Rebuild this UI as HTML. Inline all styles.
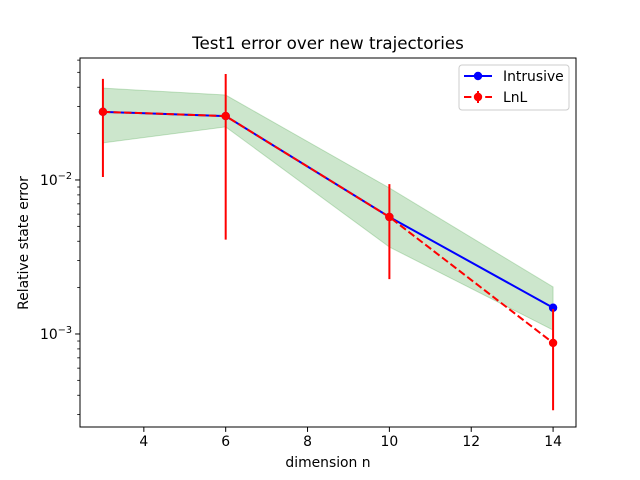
<!DOCTYPE html>
<html><head><meta charset="utf-8">
<style>body{margin:0;background:#fff}svg{display:block}text{font-family:"DejaVu Sans","Liberation Sans",sans-serif}</style>
</head><body>
<svg id="chart" width="640" height="480"></svg>
<script>
const xs = [3, 6, 10, 14];
const intrusive = [0.0277, 0.026, 0.00575, 0.00148];
const lnl = [0.0277, 0.026, 0.00575, 0.000875];
const errUpper = [0.0453, 0.0488, 0.0094, 0.00145];
const errLower = [0.01045, 0.0041, 0.00227, 0.00032];
const bandUpper = [0.0395, 0.0356, 0.00887, 0.00202];
const bandLower = [0.0174, 0.0221, 0.00367, 0.00106];
const xTicks = [4, 6, 8, 10, 12, 14];
const L=80,R=576,T=58,B=427;
const xmin=2.44,xmax=14.56,lmin=-3.604,lmax=-1.208;
const sx=v=>L+(v-xmin)/(xmax-xmin)*(R-L);
const sy=v=>B-(Math.log10(v)-lmin)/(lmax-lmin)*(B-T);
const svg=document.getElementById('chart');
const NS='http://www.w3.org/2000/svg';
function mk(tag,attrs,parent){const e=document.createElementNS(NS,tag);for(const k in attrs)e.setAttribute(k,attrs[k]);(parent||svg).appendChild(e);return e;}
let pts=xs.map((x,i)=>sx(x)+','+sy(bandUpper[i])).concat(xs.map((x,i)=>sx(x)+','+sy(bandLower[i])).reverse()).join(' ');
const band=mk('polygon',{points:pts,fill:'green','fill-opacity':0.2,stroke:'green','stroke-opacity':0.2});


const il=mk('polyline',{points:xs.map((x,i)=>sx(x)+','+sy(intrusive[i])).join(' '),fill:'none',stroke:'blue','stroke-width':2});


xs.forEach((x,i)=>{const c=mk('circle',{cx:sx(x),cy:sy(intrusive[i]),r:4.2,fill:'blue'});

});
xs.forEach((x,i)=>{const e=mk('line',{x1:sx(x),x2:sx(x),y1:sy(errUpper[i]),y2:sy(errLower[i]),stroke:'red','stroke-width':2});

});
const ll=mk('polyline',{points:xs.map((x,i)=>sx(x)+','+sy(lnl[i])).join(' '),fill:'none',stroke:'red','stroke-width':2,'stroke-dasharray':'7.4,3.2'});


xs.forEach((x,i)=>{const c=mk('circle',{cx:sx(x),cy:sy(lnl[i]),r:4.2,fill:'red'});

});
const fr=mk('rect',{x:L,y:T,width:R-L,height:B-T,fill:'none',stroke:'#000','stroke-width':1});


xTicks.forEach(t=>{const x=sx(t);mk('line',{x1:x,x2:x,y1:B,y2:B+4.9,stroke:'#000','stroke-width':1});
const tx=mk('text',{x:x,y:B+19,'text-anchor':'middle','font-size':13.9});tx.textContent=t;

});
for(let d=-4;d<=-1;d++){for(let m=1;m<10;m++){const v=m*Math.pow(10,d);const lv=Math.log10(v);if(lv<lmin||lv>lmax)continue;const y=sy(v);
mk('line',{x1:L-(m==1?4.9:2.8),x2:L,y1:y,y2:y,stroke:'#000','stroke-width':m==1?1:0.8});
if(m==1){const tx=mk('text',{x:L-8,y:y+5,'text-anchor':'end','font-size':13.9});tx.innerHTML='10<tspan dy="-6" font-size="9.7">−'+(-d)+'</tspan>';

}}}
const t1=mk('text',{x:328,y:49,'text-anchor':'middle','font-size':16.7});t1.textContent='Test1 error over new trajectories';


const t2=mk('text',{x:328,y:467,'text-anchor':'middle','font-size':13.9});t2.textContent='dimension n';


const t3=mk('text',{x:28,y:243,'text-anchor':'middle','font-size':13.9,transform:'rotate(-90 28 243)'});t3.textContent='Relative state error';


const lg=mk('g',{});


mk('rect',{x:459,y:65,width:110,height:45,rx:3,fill:'#fff',stroke:'#ccc','stroke-width':1},lg);
mk('line',{x1:464,x2:492,y1:76,y2:76,stroke:'blue','stroke-width':2},lg);
mk('circle',{cx:478,cy:76,r:4.2,fill:'blue'},lg);
const a=mk('text',{x:503,y:81,'font-size':13.9},lg);a.textContent='Intrusive';


mk('line',{x1:464,x2:492,y1:97,y2:97,stroke:'red','stroke-width':2,'stroke-dasharray':'7.4,3.2'},lg);
mk('line',{x1:478,x2:478,y1:91,y2:103,stroke:'red','stroke-width':2},lg);
mk('circle',{cx:478,cy:97,r:4.2,fill:'red'},lg);
const b=mk('text',{x:503,y:102,'font-size':13.9},lg);b.textContent='LnL';


</script>
</body></html>
